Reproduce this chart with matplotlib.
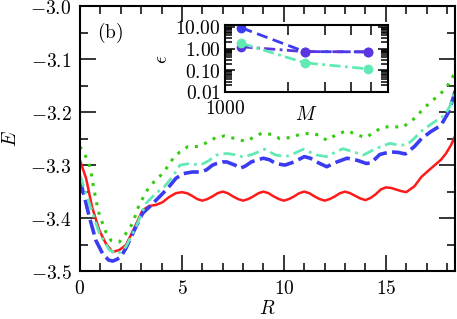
import matplotlib
matplotlib.use("Agg")
import matplotlib.pyplot as plt
from matplotlib.ticker import FixedLocator, MultipleLocator, FuncFormatter, NullFormatter

plt.rcParams["mathtext.fontset"] = "cm"

# ---------------------------------------------------------------------------
# Data
# ---------------------------------------------------------------------------

# red, solid
r_red = [0, 0.3, 0.6, 0.95, 1.27, 1.6, 1.93, 2.25, 2.66, 3.07, 3.4, 3.73, 4.05, 4.38,
         4.7, 5.0, 5.25, 5.5, 5.75, 6.0, 6.25, 6.5, 6.75, 7.0, 7.25, 7.5, 7.75, 8.0,
         8.25, 8.5, 8.75, 9.0, 9.25, 9.5, 9.75, 10.0, 10.25, 10.5, 10.75, 11.0, 11.25,
         11.5, 11.75, 12.0, 12.25, 12.5, 12.75, 13.0, 13.25, 13.5, 13.75, 14.0, 14.25,
         14.5, 14.75, 15.0, 15.25, 15.5, 15.75, 16.0, 16.4, 16.75, 17.1, 17.4, 17.7,
         17.95, 18.2, 18.4]
e_red = [-3.291, -3.325, -3.380, -3.423, -3.448, -3.464, -3.460, -3.451, -3.419, -3.385,
         -3.377, -3.375, -3.370, -3.360, -3.353, -3.351, -3.353, -3.358, -3.364, -3.367,
         -3.364, -3.359, -3.353, -3.350, -3.353, -3.359, -3.364, -3.367, -3.364, -3.359,
         -3.353, -3.350, -3.353, -3.359, -3.364, -3.367, -3.364, -3.359, -3.353, -3.350,
         -3.353, -3.359, -3.364, -3.367, -3.364, -3.359, -3.353, -3.350, -3.353, -3.358,
         -3.363, -3.366, -3.362, -3.355, -3.346, -3.342, -3.343, -3.346, -3.349, -3.351,
         -3.340, -3.322, -3.310, -3.300, -3.290, -3.278, -3.262, -3.245]

# blue, dashed
r_blue = [0, 0.25, 0.46, 0.78, 1.11, 1.4, 1.6, 1.8, 2.0, 2.25, 2.66, 3.07, 3.4, 3.89,
          4.3, 4.7, 5.07, 5.5, 5.9, 6.2, 6.5, 6.7, 7.0, 7.2, 7.6, 7.85, 8.1, 8.4, 8.7,
          9.0, 9.3, 9.6, 10.05, 10.5, 11.0, 11.3, 11.6, 12.1, 12.6, 13.1, 13.6, 14.05,
          14.3, 14.7, 15.2, 15.6, 15.95, 16.4, 16.75, 17.2, 17.7, 18.05, 18.3, 18.4]
e_blue = [-3.328, -3.365, -3.398, -3.442, -3.467, -3.479, -3.481, -3.478, -3.473, -3.457,
          -3.423, -3.391, -3.379, -3.360, -3.344, -3.325, -3.316, -3.313, -3.313, -3.309,
          -3.300, -3.297, -3.294, -3.294, -3.300, -3.306, -3.302, -3.294, -3.290, -3.287,
          -3.290, -3.297, -3.300, -3.294, -3.284, -3.287, -3.294, -3.303, -3.294, -3.287,
          -3.291, -3.297, -3.295, -3.280, -3.275, -3.276, -3.279, -3.265, -3.250, -3.237,
          -3.225, -3.202, -3.174, -3.160]

# aquamarine, dash-dot
r_aqua = [0, 0.46, 0.95, 1.44, 1.85, 2.25, 2.75, 3.24, 3.73, 4.13, 4.54, 4.9, 5.4, 5.9,
          6.3, 6.7, 7.2, 7.7, 8.0, 8.5, 9.07, 9.6, 10.1, 10.5, 10.95, 11.6, 12.1, 12.5,
          12.9, 13.4, 13.9, 14.5, 15.2, 15.6, 16.0, 16.3, 16.8, 17.4, 17.9, 18.2, 18.4]
e_aqua = [-3.319, -3.372, -3.429, -3.460, -3.468, -3.454, -3.416, -3.372, -3.353, -3.341,
          -3.322, -3.300, -3.297, -3.300, -3.292, -3.281, -3.278, -3.281, -3.285, -3.279,
          -3.270, -3.281, -3.284, -3.278, -3.270, -3.281, -3.284, -3.276, -3.269, -3.275,
          -3.281, -3.269, -3.259, -3.262, -3.262, -3.253, -3.234, -3.218, -3.206, -3.184,
          -3.158]

# green, dotted
r_green = [0, 0.25, 0.46, 0.55, 0.65, 0.75, 0.85, 0.95, 1.11, 1.27, 1.52, 1.93, 2.25,
           2.58, 2.9, 3.3, 3.64, 3.97, 4.3, 4.57, 4.9, 5.3, 5.8, 6.3, 6.7, 7.1, 7.6,
           8.1, 8.5, 8.9, 9.4, 9.8, 10.3, 10.8, 11.25, 11.7, 12.1, 12.6, 13.1, 13.6,
           14.0, 14.4, 14.8, 15.3, 15.8, 16.1, 16.5, 16.8, 17.2, 17.6, 17.9, 18.2, 18.4]
e_green = [-3.265, -3.281, -3.300, -3.315, -3.338, -3.358, -3.378, -3.394, -3.410, -3.426,
           -3.442, -3.445, -3.429, -3.410, -3.375, -3.347, -3.331, -3.319, -3.303, -3.287,
           -3.275, -3.265, -3.265, -3.256, -3.247, -3.245, -3.250, -3.255, -3.248, -3.240,
           -3.242, -3.250, -3.248, -3.242, -3.240, -3.243, -3.253, -3.242, -3.235, -3.243,
           -3.248, -3.239, -3.229, -3.227, -3.229, -3.221, -3.209, -3.195, -3.181, -3.168,
           -3.157, -3.140, -3.124]

# inset: error vs M
m_inset = [1200, 2400, 4800]
eps_blue = [9.0, 0.72, 0.70]
eps_violet = [1.2, 0.72, 0.70]
eps_aqua = [1.75, 0.22, 0.115]

RED = "#ff1a1a"
BLUE = "#3b3bf2"
VIOLET = "#5a35e0"
AQUA = "#62eab4"
GREEN = "#33cc11"
FS = 14


def mfmt(fmt):
    return FuncFormatter(lambda v, pos: "$" + format(v, fmt) + "$")


fig = plt.figure(figsize=(4.57, 3.19), dpi=100)
ax = fig.add_axes([0.175, 0.150, 0.821, 0.831])

ax.plot(r_red, e_red, color=RED, lw=1.8)
ax.plot(r_blue, e_blue, color=BLUE, lw=2.6, linestyle=(0, (4.2, 1.5)))
ax.plot(r_aqua, e_aqua, color=AQUA, lw=2.0, linestyle=(0, (4.3, 1.8, 1.0, 1.8)))
ax.plot(r_green, e_green, color=GREEN, lw=2.2, linestyle=(0, (1, 2.2)))

ax.set_xlim(0, 18.4)
ax.set_ylim(-3.5, -3.0)
ax.xaxis.set_major_locator(MultipleLocator(5))
ax.xaxis.set_minor_locator(MultipleLocator(1))
ax.yaxis.set_major_locator(MultipleLocator(0.1))
ax.yaxis.set_minor_locator(MultipleLocator(0.05))
ax.xaxis.set_major_formatter(mfmt("g"))
ax.yaxis.set_major_formatter(mfmt(".1f"))
ax.tick_params(which="both", direction="in", top=True, right=True, width=1.1,
               labelsize=FS)
ax.tick_params(which="major", length=11.5, pad=6)
ax.tick_params(which="minor", length=5.8)
for s in ax.spines.values():
    s.set_linewidth(1.5)
ax.set_xlabel(r"$R$", fontsize=FS)
ax.set_ylabel(r"$E$", fontsize=FS)
ax.xaxis.set_label_coords(0.5, -0.105)
ax.yaxis.set_label_coords(-0.16, 0.5)
ax.text(0.045, 0.9, r"$\mathrm{(b)}$", transform=ax.transAxes, fontsize=FS,
        ha="left", va="center")

# ---------------------------------------------------------------------------
# Inset
# ---------------------------------------------------------------------------
axi = fig.add_axes([0.492, 0.712, 0.357, 0.21])
axi.plot(m_inset, eps_blue, color=BLUE, lw=2.0, linestyle=(0, (4, 2)),
         marker="o", ms=6)
axi.plot(m_inset, eps_violet, color=VIOLET, lw=2.0, linestyle=(0, (4, 1.6, 1, 1.6)),
         marker="o", ms=6)
axi.plot(m_inset, eps_aqua, color=AQUA, lw=2.0, linestyle=(0, (4, 1.6, 1, 1.6)),
         marker="o", ms=6)
axi.set_xscale("log")
axi.set_yscale("log")
axi.set_xlim(1000, 6000)
axi.set_ylim(0.01, 12.3)
axi.xaxis.set_major_locator(FixedLocator([1000]))
axi.xaxis.set_minor_locator(FixedLocator([2000, 3000, 4000, 5000, 6000]))
axi.xaxis.set_major_formatter(mfmt("g"))
axi.xaxis.set_minor_formatter(NullFormatter())
axi.yaxis.set_major_locator(FixedLocator([0.01, 0.1, 1, 10]))
axi.yaxis.set_minor_locator(FixedLocator(
    [k * 10.0 ** d for d in range(-2, 2) for k in range(2, 10)]))
axi.yaxis.set_major_formatter(mfmt(".2f"))
axi.yaxis.set_minor_formatter(NullFormatter())
axi.tick_params(which="both", direction="in", top=True, right=True, width=1.1,
                labelsize=FS, pad=3)
axi.tick_params(axis="x", which="major", length=7, pad=5)
axi.tick_params(axis="y", which="major", length=7)
axi.tick_params(axis="y", which="minor", length=5)
axi.tick_params(axis="x", which="minor", length=7)
for s in axi.spines.values():
    s.set_linewidth(1.5)
axi.set_xlabel(r"$M$", fontsize=FS)
axi.set_ylabel(r"$\epsilon$", fontsize=FS)
axi.xaxis.set_label_coords(0.5, -0.2)
axi.yaxis.set_label_coords(-0.33, 0.48)

fig.savefig("out.png", dpi=100)
